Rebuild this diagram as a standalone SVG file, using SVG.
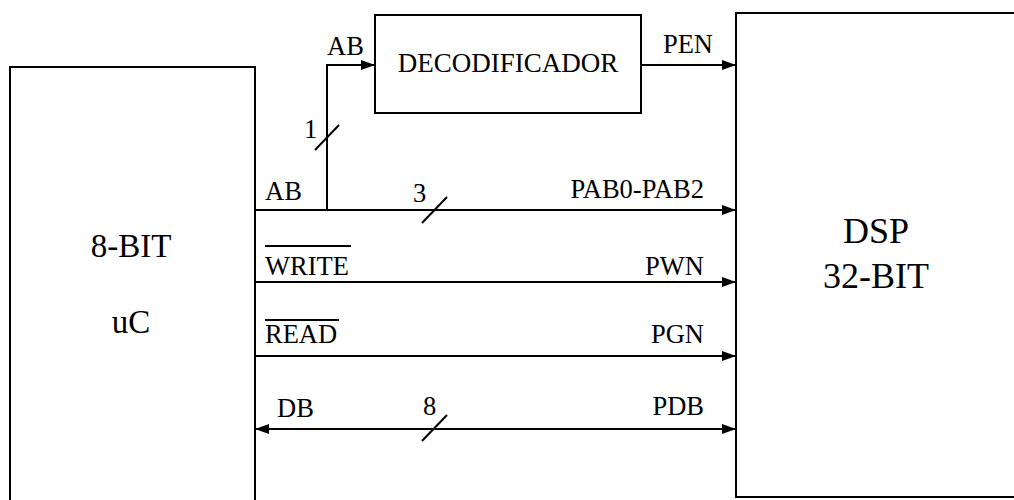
<svg xmlns="http://www.w3.org/2000/svg" width="1014" height="500" viewBox="0 0 1014 500">
<style>
.box{fill:#fff;stroke:#000;stroke-width:2}
.ln{fill:none;stroke:#000;stroke-width:2}
.t{font-family:'Liberation Serif','Times New Roman',Tinos,'DejaVu Serif','Noto Serif',serif;fill:#000}
.lbl{font-size:26.5px}
.big{font-size:33px}
</style>
<defs>
<marker id="ah" viewBox="0 0 14 10" refX="14" refY="5" markerWidth="14" markerHeight="10" markerUnits="userSpaceOnUse" orient="auto-start-reverse">
<path d="M0,0 L14,5 L0,10 Z" fill="#000"/>
</marker>
</defs>
<rect width="1014" height="500" fill="#fff"/>
<g id="uc">
<rect class="box" x="10" y="67" width="245" height="450"/>
<text class="t big" x="131" y="257" text-anchor="middle">8-BIT</text>
<text class="t big" x="131" y="333" text-anchor="middle">uC</text>
</g>
<g id="dsp">
<rect class="box" x="736" y="13" width="300" height="484"/>
<text class="t" font-size="36" x="876" y="243" text-anchor="middle">DSP</text>
<text class="t" font-size="36" x="876" y="288" text-anchor="middle">32-BIT</text>
</g>
<g id="decodificador">
<rect class="box" x="375" y="15" width="266" height="98"/>
<text class="t" font-size="27" x="508" y="72" text-anchor="middle">DECODIFICADOR</text>
</g>
<g id="connectors">
<path class="ln" d="M327,210 L327,65 L375,65" marker-end="url(#ah)"/>
<path class="ln" d="M315,150 L339,125"/>
<path class="ln" d="M641,65 L736,65" marker-end="url(#ah)"/>
<path class="ln" d="M255,210 L736,210" marker-end="url(#ah)"/>
<path class="ln" d="M422,223 L447,197"/>
<path class="ln" d="M255,282 L736,282" marker-end="url(#ah)"/>
<path class="ln" d="M255,356 L736,356" marker-end="url(#ah)"/>
<path class="ln" d="M255,429 L736,429" marker-start="url(#ah)" marker-end="url(#ah)"/>
<path class="ln" d="M422,441 L447,415"/>
</g>
<g id="labels">
<text class="t lbl" x="327" y="55">AB</text>
<text class="t lbl" x="304" y="138">1</text>
<text class="t lbl" x="713" y="53" text-anchor="end">PEN</text>
<text class="t lbl" x="265" y="200">AB</text>
<text class="t lbl" x="413" y="202">3</text>
<text class="t lbl" x="704" y="198" text-anchor="end">PAB0-PAB2</text>
<text class="t lbl" x="265" y="275">WRITE</text>
<line class="ln" x1="265" y1="246" x2="351" y2="246" stroke-width="1.5"/>
<text class="t lbl" x="704" y="275" text-anchor="end">PWN</text>
<text class="t lbl" x="265" y="343">READ</text>
<line class="ln" x1="265" y1="320" x2="339" y2="320" stroke-width="1.5"/>
<text class="t lbl" x="704" y="343" text-anchor="end">PGN</text>
<text class="t lbl" x="277" y="417">DB</text>
<text class="t lbl" x="423" y="415">8</text>
<text class="t lbl" x="704" y="415" text-anchor="end">PDB</text>
</g>
</svg>
